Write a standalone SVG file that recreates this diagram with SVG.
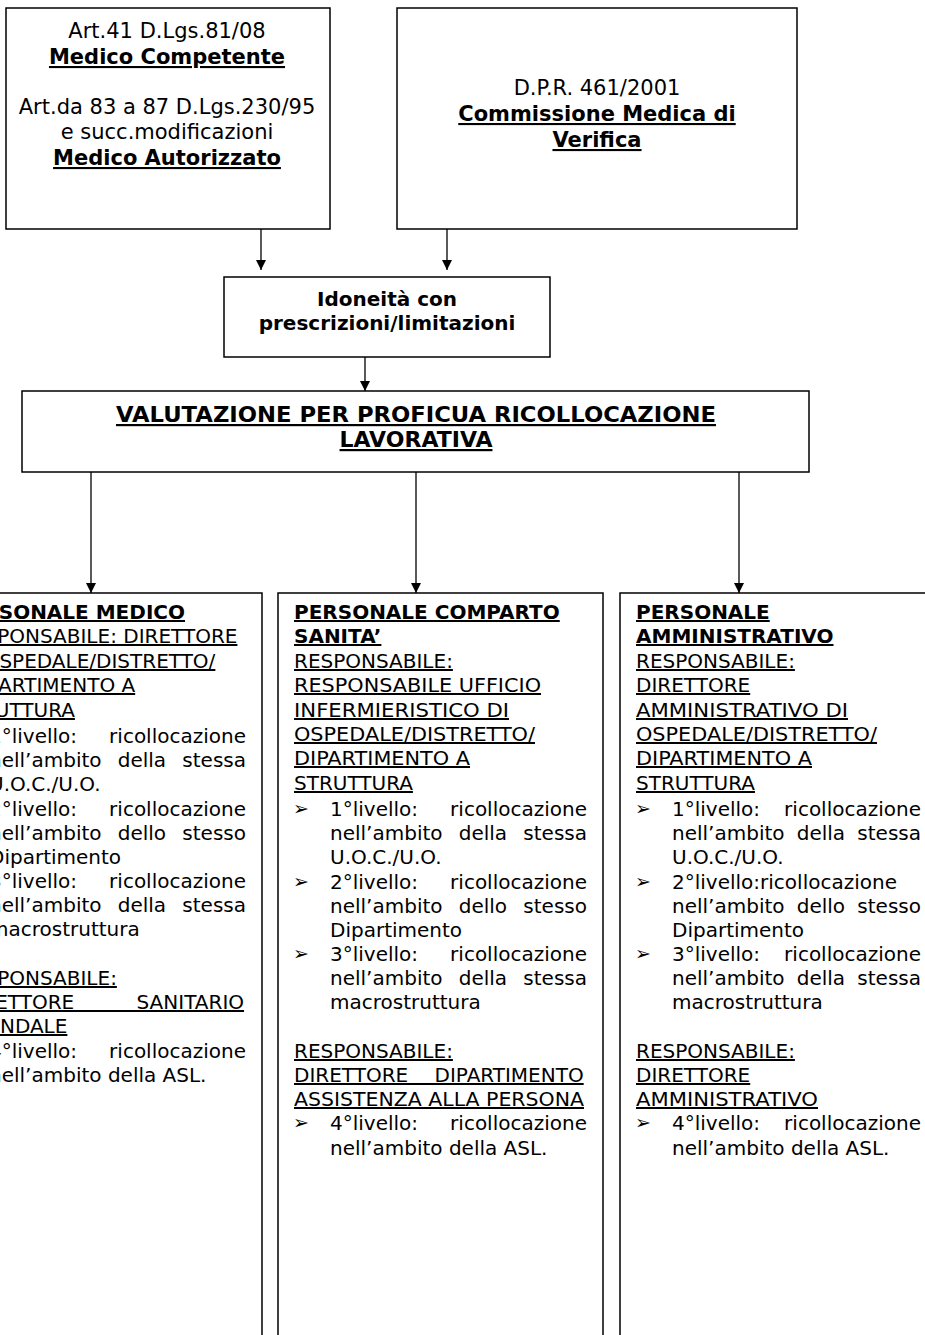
<svg xmlns="http://www.w3.org/2000/svg" width="925" height="1335" viewBox="0 0 925 1335">
<style>
.box{fill:#fff;stroke:#000;stroke-width:1.5}
.t{font-family:'DejaVu Sans',Verdana,sans-serif;font-size:20px;fill:#000}
.h{font-size:21px}
.v{font-size:22px}
.b{font-weight:bold}
.u{text-decoration:underline}
.m{text-anchor:middle}
.e{text-anchor:end}
.bl{font-size:19px}
.cn{stroke:#000;stroke-width:1.3;fill:none}
</style>
<defs>
<marker id="ah" viewBox="0 0 10 10" refX="10" refY="5" markerWidth="11" markerHeight="10" markerUnits="userSpaceOnUse" orient="auto">
<path d="M0,0 L10,5 L0,10 z" fill="#000"/>
</marker>
</defs>
<rect width="925" height="1335" fill="#fff"/>

<g id="connectors">
<line class="cn" x1="261" y1="229" x2="261" y2="270" marker-end="url(#ah)"/>
<line class="cn" x1="447" y1="229" x2="447" y2="270" marker-end="url(#ah)"/>
<line class="cn" x1="365" y1="350" x2="365" y2="391" marker-end="url(#ah)"/>
<line class="cn" x1="91" y1="472" x2="91" y2="593" marker-end="url(#ah)"/>
<line class="cn" x1="416" y1="472" x2="416" y2="593" marker-end="url(#ah)"/>
<line class="cn" x1="739" y1="472" x2="739" y2="593" marker-end="url(#ah)"/>
</g>

<g id="medico-competente">
<rect class="box" x="6" y="8" width="324" height="221"/>
<text class="t h m" x="167" y="38">Art.41 D.Lgs.81/08</text>
<text class="t h m b u" x="167" y="64">Medico Competente</text>
<text class="t h m" x="167" y="114">Art.da 83 a 87 D.Lgs.230/95</text>
<text class="t h m" x="167" y="139">e succ.modificazioni</text>
<text class="t h m b u" x="167" y="165">Medico Autorizzato</text>
</g>

<g id="commissione">
<rect class="box" x="397" y="8" width="400" height="221"/>
<text class="t h m" x="597" y="95">D.P.R. 461/2001</text>
<text class="t h m b u" x="597" y="121">Commissione Medica di</text>
<text class="t h m b u" x="597" y="147">Verifica</text>
</g>

<g id="idoneita">
<rect class="box" x="224" y="277" width="326" height="80"/>
<text class="t b m" x="387" y="306">Idoneità con</text>
<text class="t b m" x="387" y="330">prescrizioni/limitazioni</text>
</g>

<g id="valutazione">
<rect class="box" x="22" y="391" width="787" height="81"/>
<text class="t v b u m" x="416" y="422" textLength="600" lengthAdjust="spacingAndGlyphs">VALUTAZIONE PER PROFICUA RICOLLOCAZIONE</text>
<text class="t v b u m" x="416" y="447">LAVORATIVA</text>
</g>

<g id="personale-medico">
<rect class="box" x="-63" y="593" width="325" height="800"/>
<text class="t b u" x="-45" y="619">PERSONALE MEDICO</text>
<text class="t u" x="-42" y="643">RESPONSABILE: DIRETTORE</text>
<text class="t u" x="-44" y="668">DI OSPEDALE/DISTRETTO/</text>
<text class="t u" x="-34" y="692">DIPARTIMENTO A</text>
<text class="t u" x="-44" y="717">STRUTTURA</text>
<text class="t" x="-11" y="743">1°livello:</text><text class="t e" x="246" y="743">ricollocazione</text>
<text class="t" x="-11" y="767">nell’ambito</text><text class="t" x="117.7" y="767">della</text><text class="t e" x="246" y="767">stessa</text>
<text class="t" x="-11" y="791">U.O.C./U.O.</text>
<text class="t" x="-11" y="816">2°livello:</text><text class="t e" x="246" y="816">ricollocazione</text>
<text class="t" x="-11" y="840">nell’ambito</text><text class="t" x="117.7" y="840">dello</text><text class="t e" x="246" y="840">stesso</text>
<text class="t" x="-11" y="864">Dipartimento</text>
<text class="t" x="-11" y="888">3°livello:</text><text class="t e" x="246" y="888">ricollocazione</text>
<text class="t" x="-11" y="912">nell’ambito</text><text class="t" x="117.7" y="912">della</text><text class="t e" x="246" y="912">stessa</text>
<text class="t" x="-11" y="936">macrostruttura</text>
<text class="t u" x="-42" y="985">RESPONSABILE:</text>
<text class="t u" x="-40" y="1009" style="word-spacing:56px">DIRETTORE SANITARIO</text>
<text class="t u" x="-46" y="1033">AZIENDALE</text>
<text class="t" x="-11" y="1058">4°livello:</text><text class="t e" x="246" y="1058">ricollocazione</text>
<text class="t" x="-11" y="1082">nell’ambito della ASL.</text>
</g>

<g id="personale-comparto">
<rect class="box" x="278" y="593" width="325" height="800"/>
<text class="t b u" x="294" y="619">PERSONALE COMPARTO</text>
<text class="t b u" x="294" y="643">SANITA’</text>
<text class="t u" x="294" y="668">RESPONSABILE:</text>
<text class="t u" x="294" y="692" textLength="247" lengthAdjust="spacingAndGlyphs">RESPONSABILE UFFICIO</text>
<text class="t u" x="294" y="717" textLength="215" lengthAdjust="spacingAndGlyphs">INFERMIERISTICO DI</text>
<text class="t u" x="294" y="741" textLength="241" lengthAdjust="spacingAndGlyphs">OSPEDALE/DISTRETTO/</text>
<text class="t u" x="294" y="765" textLength="176" lengthAdjust="spacingAndGlyphs">DIPARTIMENTO A</text>
<text class="t u" x="294" y="790">STRUTTURA</text>
<text class="t bl" x="293" y="815">➢</text>
<text class="t" x="330" y="816">1°livello:</text><text class="t e" x="587" y="816">ricollocazione</text>
<text class="t" x="330" y="840">nell’ambito</text><text class="t" x="458.7" y="840">della</text><text class="t e" x="587" y="840">stessa</text>
<text class="t" x="330" y="864">U.O.C./U.O.</text>
<text class="t bl" x="293" y="888">➢</text>
<text class="t" x="330" y="889">2°livello:</text><text class="t e" x="587" y="889">ricollocazione</text>
<text class="t" x="330" y="913">nell’ambito</text><text class="t" x="458.7" y="913">dello</text><text class="t e" x="587" y="913">stesso</text>
<text class="t" x="330" y="937">Dipartimento</text>
<text class="t bl" x="293" y="960">➢</text>
<text class="t" x="330" y="961">3°livello:</text><text class="t e" x="587" y="961">ricollocazione</text>
<text class="t" x="330" y="985">nell’ambito</text><text class="t" x="458.7" y="985">della</text><text class="t e" x="587" y="985">stessa</text>
<text class="t" x="330" y="1009">macrostruttura</text>
<text class="t u" x="294" y="1058">RESPONSABILE:</text>
<text class="t u" x="294" y="1082" style="word-spacing:20px">DIRETTORE DIPARTIMENTO</text>
<text class="t u" x="294" y="1106" textLength="290" lengthAdjust="spacingAndGlyphs">ASSISTENZA ALLA PERSONA</text>
<text class="t bl" x="293" y="1129">➢</text>
<text class="t" x="330" y="1130">4°livello:</text><text class="t e" x="587" y="1130">ricollocazione</text>
<text class="t" x="330" y="1155">nell’ambito della ASL.</text>
</g>

<g id="personale-amministrativo">
<rect class="box" x="620" y="593" width="318" height="800"/>
<text class="t b u" x="636" y="619">PERSONALE</text>
<text class="t b u" x="636" y="643">AMMINISTRATIVO</text>
<text class="t u" x="636" y="668">RESPONSABILE:</text>
<text class="t u" x="636" y="692">DIRETTORE</text>
<text class="t u" x="636" y="717" textLength="212" lengthAdjust="spacingAndGlyphs">AMMINISTRATIVO DI</text>
<text class="t u" x="636" y="741" textLength="241" lengthAdjust="spacingAndGlyphs">OSPEDALE/DISTRETTO/</text>
<text class="t u" x="636" y="765" textLength="176" lengthAdjust="spacingAndGlyphs">DIPARTIMENTO A</text>
<text class="t u" x="636" y="790">STRUTTURA</text>
<text class="t bl" x="635" y="815">➢</text>
<text class="t" x="672" y="816">1°livello:</text><text class="t e" x="921" y="816">ricollocazione</text>
<text class="t" x="672" y="840">nell’ambito</text><text class="t" x="796.7" y="840">della</text><text class="t e" x="921" y="840">stessa</text>
<text class="t" x="672" y="864">U.O.C./U.O.</text>
<text class="t bl" x="635" y="888">➢</text>
<text class="t" x="672" y="889">2°livello:ricollocazione</text>
<text class="t" x="672" y="913">nell’ambito</text><text class="t" x="796.7" y="913">dello</text><text class="t e" x="921" y="913">stesso</text>
<text class="t" x="672" y="937">Dipartimento</text>
<text class="t bl" x="635" y="960">➢</text>
<text class="t" x="672" y="961">3°livello:</text><text class="t e" x="921" y="961">ricollocazione</text>
<text class="t" x="672" y="985">nell’ambito</text><text class="t" x="796.7" y="985">della</text><text class="t e" x="921" y="985">stessa</text>
<text class="t" x="672" y="1009">macrostruttura</text>
<text class="t u" x="636" y="1058">RESPONSABILE:</text>
<text class="t u" x="636" y="1082">DIRETTORE</text>
<text class="t u" x="636" y="1106" textLength="182" lengthAdjust="spacingAndGlyphs">AMMINISTRATIVO</text>
<text class="t bl" x="635" y="1129">➢</text>
<text class="t" x="672" y="1130">4°livello:</text><text class="t e" x="921" y="1130">ricollocazione</text>
<text class="t" x="672" y="1155">nell’ambito della ASL.</text>
</g>
</svg>
